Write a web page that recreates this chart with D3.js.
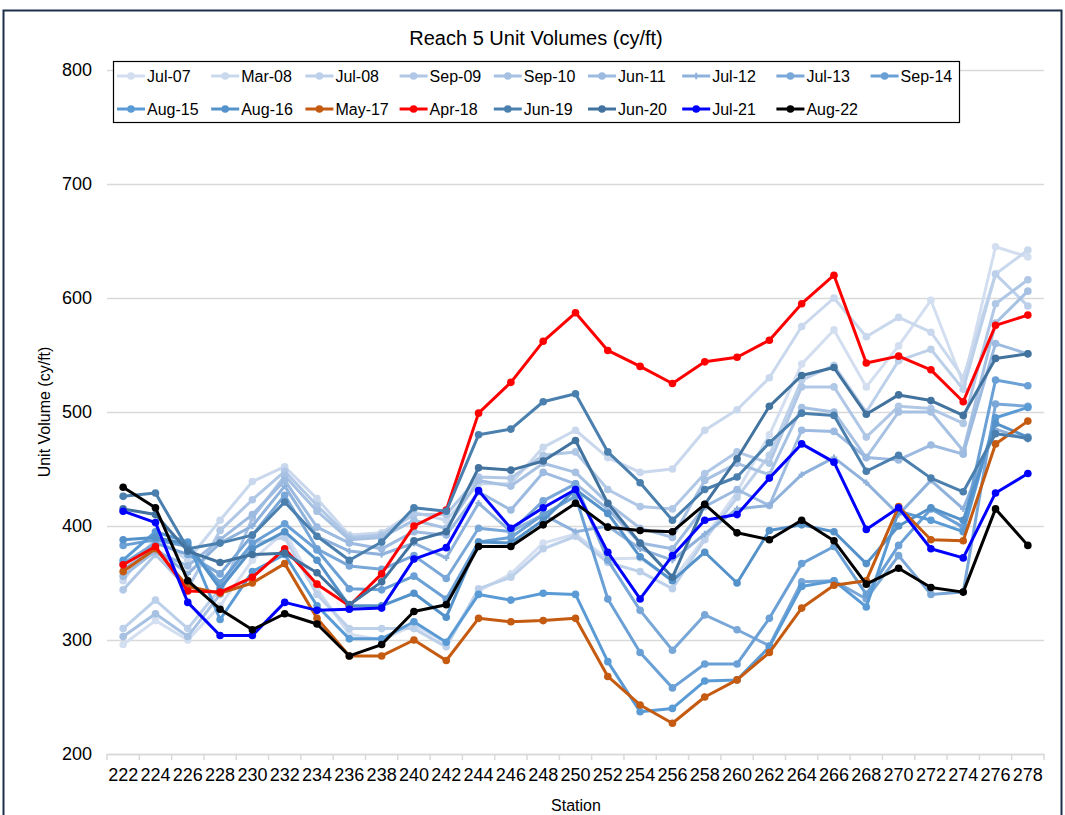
<!DOCTYPE html>
<html>
<head>
<meta charset="utf-8">
<script src="https://cdn.jsdelivr.net/npm/d3@7"></script>
<style>
  body { margin: 0; background: #fff; }
  svg { font-family: "Liberation Sans", Arial, sans-serif; }
</style>
</head>
<body>
<div id="chart"></div>
<script>
const stations = ["222","224","226","228","230","232","234","236","238","240","242","244","246","248","250",
                  "252","254","256","258","260","262","264","266","268","270","272","274","276","278"];
const yTicks = [200, 300, 400, 500, 600, 700, 800];

const jul07 = [296,317,300,330,370,395,345,305,300,313,298,343,358,385,393,371,372,352,390,430,480,542,572,522,558,598,525,645,636];
const mar08 = [352,390,370,405,439,452,424,392,394,412,405,437,437,469,484,460,447,450,484,502,530,575,600,566,583,570,530,621,642];
const jul08 = [310,335,310,345,385,390,340,310,310,310,294,345,355,380,391,368,360,345,388,425,462,528,541,500,545,555,520,621,593];
const sep09 = [344,375,345,396,423,448,418,390,392,410,410,443,442,462,465,432,417,415,446,465,455,522,522,478,505,503,490,595,616];
const sep10 = [303,323,303,340,407,444,413,388,390,405,398,440,435,455,447,420,398,390,440,455,445,504,500,460,500,500,466,578,606];
const jun11 = [356,378,365,388,410,440,399,385,380,395,392,430,414,447,437,415,385,380,417,432,418,484,483,460,458,471,463,560,551];
const jul12 = [362,380,358,385,400,435,391,378,375,385,372,420,395,410,395,400,380,370,393,415,418,445,460,438,410,440,415,485,476];
const jul13 = [367,385,375,358,392,427,380,365,362,374,354,398,395,422,437,370,326,291,322,309,295,351,352,336,374,340,342,507,505];
const sep14 = [383,388,382,350,385,402,379,345,344,356,336,386,390,410,426,336,289,258,279,279,319,367,382,340,383,415,399,528,523];
const aug15 = [370,395,386,318,360,375,330,301,301,316,298,340,335,341,340,281,237,240,264,265,294,347,352,329,413,405,395,495,504];
const aug16 = [388,390,384,345,380,395,370,330,330,341,320,386,385,405,432,411,373,352,377,350,396,401,395,367,400,416,405,490,478];
const may17 = [360,380,347,341,350,367,319,286,286,300,282,319,316,317,319,268,243,227,250,265,289,328,348,352,417,388,387,472,492];
const apr18 = [366,382,343,342,355,380,349,330,358,400,414,499,526,562,587,554,540,525,544,548,563,595,620,543,549,537,509,576,585];
const jun19 = [426,429,380,385,392,421,391,370,386,416,413,480,485,509,516,465,438,405,432,443,473,499,497,448,462,442,430,481,477];
const jun20 = [415,410,378,368,375,376,359,331,351,387,395,451,449,457,475,420,385,355,419,459,505,532,539,498,515,510,497,547,551];
const jul21 = [413,403,333,304,304,333,326,327,328,371,381,431,398,416,432,377,336,374,405,410,442,472,456,397,416,380,372,429,446];
const aug22 = [434,416,352,327,309,323,314,286,296,325,331,382,382,401,420,399,396,395,419,394,388,405,387,349,363,346,342,415,383];

const seriesNames = ["Jul-07","Mar-08","Jul-08","Sep-09","Sep-10","Jun-11","Jul-12","Jul-13","Sep-14",
                     "Aug-15","Aug-16","May-17","Apr-18","Jun-19","Jun-20","Jul-21","Aug-22"];
const seriesValues = [jul07, mar08, jul08, sep09, sep10, jun11, jul12, jul13, sep14,
                      aug15, aug16, may17, apr18, jun19, jun20, jul21, aug22];
const seriesColors = ["#d3dff0","#c9d8ed","#bdd0ea","#b0c7e6","#a7c1e3","#9dbae0","#8fb2dc","#79a7d8","#6aa0d6",
                      "#5b9bd5","#5592ca","#c55a11","#ff0000","#4a7fae","#42739f","#0000ff","#000000"];

const width = 1065, height = 815;
const plot = { left: 107, right: 1044, top: 70, bottom: 754 };

const svg = d3.select("#chart").append("svg")
  .attr("width", width)
  .attr("height", height);

svg.append("rect")
  .attr("width", width).attr("height", height)
  .attr("fill", "#fff");

// chart border
svg.append("rect")
  .attr("x", 3.5).attr("y", 10.5)
  .attr("width", 1058).attr("height", 830)
  .attr("fill", "none")
  .attr("stroke", "#1f2f4a")
  .attr("stroke-width", 2);

const x = d3.scaleBand().domain(stations).range([plot.left, plot.right]);
const y = d3.scaleLinear().domain([200, 800]).range([plot.bottom, plot.top]);
const cx = s => x(s) + x.bandwidth() / 2;

// gridlines + y labels
const yAxis = svg.append("g")
  .attr("transform", `translate(${plot.left},0)`)
  .call(d3.axisLeft(y).tickValues(yTicks).tickSize(-(plot.right - plot.left)).tickPadding(15));
yAxis.select(".domain").remove();
yAxis.selectAll("line").attr("stroke", "#d9d9d9").attr("stroke-width", 1.5);
yAxis.selectAll("text").attr("font-size", "18px").attr("fill", "#000");

// x axis
const xAxis = svg.append("g")
  .attr("transform", `translate(0,${plot.bottom})`)
  .call(d3.axisBottom(x).tickSize(0).tickPadding(14));
xAxis.select(".domain").attr("stroke", "#d9d9d9").attr("stroke-width", 1.5);
xAxis.selectAll("text").attr("font-size", "18px").attr("fill", "#000");

svg.append("g").selectAll("line")
  .data(stations.concat(["end"]))
  .enter().append("line")
  .attr("x1", d => d === "end" ? x.range()[1] : x(d))
  .attr("x2", d => d === "end" ? x.range()[1] : x(d))
  .attr("y1", plot.bottom).attr("y2", plot.bottom + 6)
  .attr("stroke", "#d9d9d9").attr("stroke-width", 1.5);

// titles
svg.append("text")
  .attr("x", 536).attr("y", 45)
  .attr("text-anchor", "middle")
  .attr("font-size", "20px")
  .text("Reach 5 Unit Volumes (cy/ft)");

svg.append("text")
  .attr("transform", "translate(50,412) rotate(-90)")
  .attr("text-anchor", "middle")
  .attr("font-size", "16px")
  .text("Unit Volume (cy/ft)");

svg.append("text")
  .attr("x", 576).attr("y", 811)
  .attr("text-anchor", "middle")
  .attr("font-size", "16px")
  .text("Station");

// series
const series = seriesNames.map((name, i) => ({
  name,
  color: seriesColors[i],
  values: seriesValues[i].map((v, j) => ({ station: stations[j], value: v }))
}));

const line = d3.line().x(d => cx(d.station)).y(d => y(d.value));

const markerFor = (sel, s, r) => {
  if (s.name === "Jul-12") {
    sel.append("path")
      .attr("d", d3.symbol(d3.symbolCross, 22))
      .attr("fill", s.color);
  } else {
    sel.append("circle").attr("r", r).attr("fill", s.color);
  }
};

const seriesG = svg.append("g");
series.forEach(s => {
  const g = seriesG.append("g");
  g.append("path")
    .datum(s.values)
    .attr("d", line)
    .attr("fill", "none")
    .attr("stroke", s.color)
    .attr("stroke-width", 3)
    .attr("stroke-linejoin", "round");
  g.selectAll("g.pt")
    .data(s.values)
    .enter().append("g")
    .attr("class", "pt")
    .attr("transform", d => `translate(${cx(d.station)},${y(d.value)})`)
    .each(function() { markerFor(d3.select(this), s, 3.8); });
});

// legend
const legend = svg.append("g");
legend.append("rect")
  .attr("x", 113.5).attr("y", 61.5)
  .attr("width", 846).attr("height", 61)
  .attr("fill", "#fff")
  .attr("stroke", "#000")
  .attr("stroke-width", 1.2);

const colW = 94.2;
series.forEach((s, i) => {
  const col = i % 9, row = Math.floor(i / 9);
  const lx = 117 + col * colW, ly = 76 + row * 33;
  const item = legend.append("g").attr("transform", `translate(${lx},${ly})`);
  item.append("line")
    .attr("x1", 0).attr("x2", 28)
    .attr("stroke", s.color).attr("stroke-width", 3);
  const m = item.append("g").attr("transform", "translate(14,0)");
  markerFor(m, s, 3.8);
  item.append("text")
    .attr("x", 30).attr("y", 0).attr("dy", "0.35em")
    .attr("font-size", "16px")
    .text(s.name);
});
</script>
</body>
</html>
